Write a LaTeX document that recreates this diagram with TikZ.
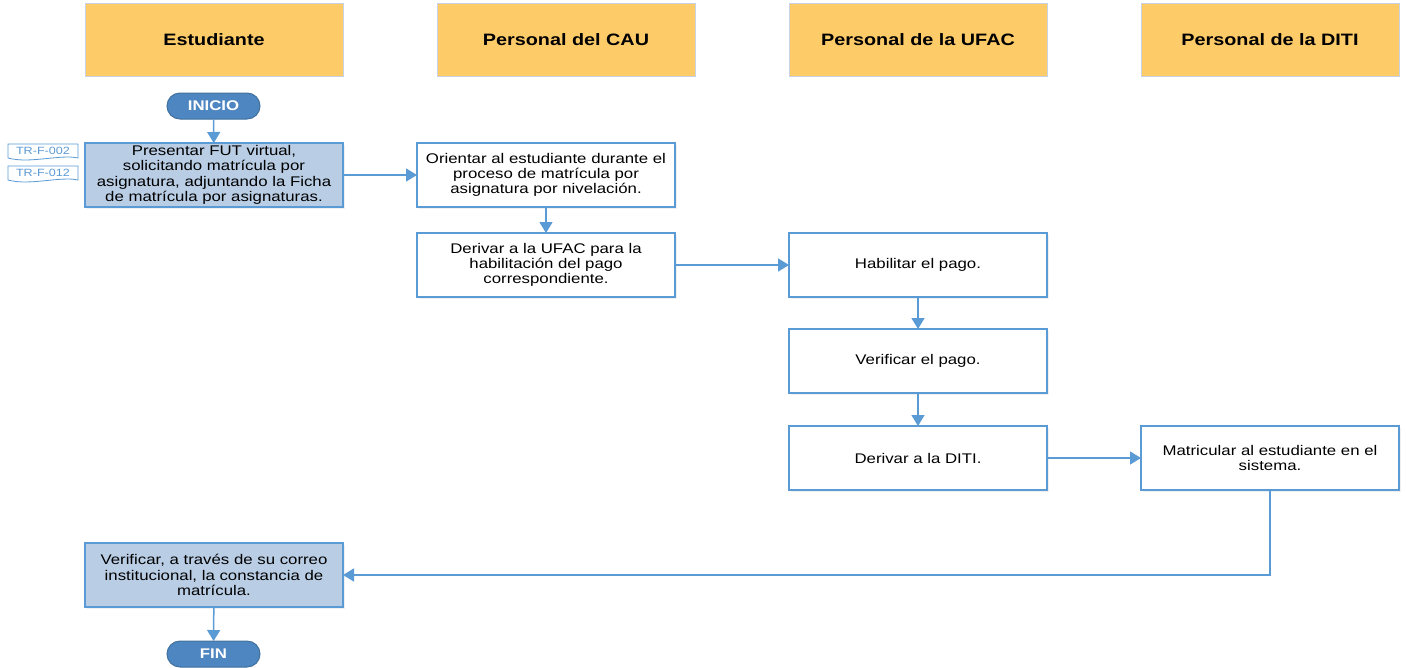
\documentclass[tikz,border=0pt]{standalone}
\usepackage{fontspec}
\setmainfont[FakeStretch=1.2]{Liberation Sans}
\usetikzlibrary{arrows.meta,shadows}
\definecolor{lineblue}{HTML}{5B9BD5}
\definecolor{lightfill}{HTML}{B9CDE5}
\definecolor{termfill}{HTML}{4E86C2}
\definecolor{termedge}{HTML}{41719C}
\definecolor{headfill}{HTML}{FECB69}
\definecolor{headedge}{HTML}{C8D4E6}
\tikzset{
  lane/.style={draw=headedge, line width=1pt, fill=headfill, minimum width=258pt, minimum height=73pt,
    inner sep=0pt, outer sep=0pt, anchor=north west, font=\fontsize{16.5}{19}\selectfont\bfseries},
  proc/.style={draw=lineblue, line width=1.3pt, fill=white, minimum width=258pt, minimum height=64pt,
    inner sep=2pt, outer sep=0pt, anchor=north west, align=center,
    font=\fontsize{14}{15.3}\selectfont,
    drop shadow={opacity=0.12, shadow xshift=1.5pt, shadow yshift=-1.5pt}},
  procfill/.style={proc, fill=lightfill},
  term/.style={draw=termedge, line width=1pt, fill=termfill, rounded corners=13pt, minimum width=93pt,
    minimum height=26pt, inner sep=0pt, outer sep=0pt, text=white, font=\fontsize{14}{16}\selectfont\bfseries},
  tag/.style={inner sep=0pt, text=lineblue, font=\fontsize{10.5}{12}\selectfont},
  flow/.style={draw=lineblue, line width=1.5pt, -{Triangle[length=11pt,width=13pt]}},
  tagedge/.style={draw=lineblue, line width=0.8pt, fill=white}
}
\begin{document}
\begin{tikzpicture}[x=1pt,y=-1pt]
\useasboundingbox (0,0) rectangle (1407,667);

% swimlane headers
\node[lane] (h1) at (85,3) {Estudiante};
\node[lane] (h2) at (437,3) {Personal del CAU};
\node[lane] (h3) at (789,3) {Personal de la UFAC};
\node[lane] (h4) at (1141,3) {Personal de la DITI};

% start / end
\node[term] (inicio) at (213.5,106) {INICIO};
\node[term] (fin) at (213.5,654) {FIN};

% document tags
\draw[tagedge] (8,144) -- (78,144) -- (78,158) .. controls (60,154) and (30,164) .. (8,158) -- cycle;
\draw[tagedge] (8,166) -- (78,166) -- (78,180) .. controls (60,176) and (30,186) .. (8,180) -- cycle;
\node[tag] (tag1) at (43,150.5) {TR-F-002};
\node[tag] (tag2) at (43,172.5) {TR-F-012};

% process steps
\node[procfill] (presentar) at (85,143) {Presentar FUT virtual,\\solicitando matrícula por\\asignatura, adjuntando la Ficha\\de matrícula por asignaturas.};
\node[proc] (orientar) at (417,143) {Orientar al estudiante durante el\\proceso de matrícula por\\asignatura por nivelación.};
\node[proc] (derivufac) at (417,233) {Derivar a la UFAC para la\\habilitación del pago\\correspondiente.};
\node[proc] (habilitar) at (789,233) {Habilitar el pago.};
\node[proc] (verifpago) at (789,329) {Verificar el pago.};
\node[proc] (derivditi) at (789,426) {Derivar a la DITI.};
\node[proc] (matricular) at (1141,426) {Matricular al estudiante en el\\sistema.};
\node[procfill] (verifcorreo) at (85,543) {Verificar, a través de su correo\\institucional, la constancia de\\matrícula.};

% connectors
\draw[flow] (inicio) -- (presentar);
\draw[flow] (presentar) -- (orientar);
\draw[flow] (orientar) -- (derivufac);
\draw[flow] (derivufac) -- (habilitar);
\draw[flow] (habilitar) -- (verifpago);
\draw[flow] (verifpago) -- (derivditi);
\draw[flow] (derivditi) -- (matricular);
\draw[flow] (matricular.south) |- (verifcorreo.east);
\draw[flow] (verifcorreo) -- (fin);
\end{tikzpicture}
\end{document}
